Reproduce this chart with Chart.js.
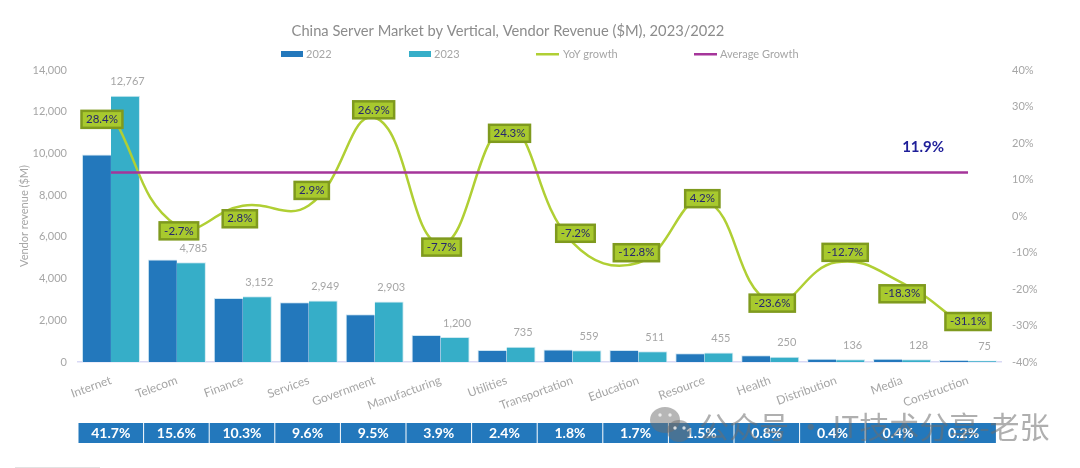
<!DOCTYPE html>
<html>
<head>
<meta charset="utf-8">
<title>China Server Market by Vertical</title>
<script src="https://cdn.jsdelivr.net/npm/chart.js@4"></script>
<style>
  html, body { margin: 0; padding: 0; background: #fff; }
  canvas { display: block; }
</style>
</head>
<body>
<canvas id="serverChart" width="1080" height="468"></canvas>
<script>
const categories = ["Internet", "Telecom", "Finance", "Services", "Government", "Manufacturing", "Utilities",
    "Transportation", "Education", "Resource", "Health", "Distribution", "Media", "Construction"];
const revenue2022 = [9943, 4918, 3066, 2866, 2288, 1300, 570, 602, 570, 420, 320, 150, 150, 100];
const revenue2023 = [12767, 4785, 3152, 2949, 2903, 1200, 735, 559, 511, 455, 250, 136, 128, 75];
const yoyGrowth = [28.4, -2.7, 2.8, 2.9, 26.9, -7.7, 24.3, -7.2, -12.8, 4.2, -23.6, -12.7, -18.3, -31.1];
const averageGrowth = [11.9, 11.9, 11.9, 11.9, 11.9, 11.9, 11.9, 11.9, 11.9, 11.9, 11.9, 11.9, 11.9, 11.9];
const marketShare = ["41.7%", "15.6%", "10.3%", "9.6%", "9.5%", "3.9%", "2.4%", "1.8%", "1.7%", "1.5%", "0.8%", "0.4%", "0.4%", "0.2%"];

// label boxes sit off the line a bit, same as in the original
const growthLabelDx = [-9, 2, -3, 3, -1, 1, 3, 3, -2, -2, 2, 9, 0, 0];
const growthLabelDy = [7, 5, 13, -15, -8, 3, 6, -9, -10, -2, 1, -10, 11, -8];

const FONT = "Lato, 'Open Sans', sans-serif";
const GREY = "#a6a6a6";
const BLUE = "#2378bc";
const TEAL = "#36aec8";
const LIME = "#b0cf34";
const PURPLE = "#a5359a";

function centerText(ctx, text, x, y, font, color) {
    ctx.font = font;
    ctx.fillStyle = color;
    ctx.textAlign = "center";
    ctx.textBaseline = "middle";
    ctx.fillText(text, x, y);
}

const extrasPlugin = {
    id: "extras",
    afterDatasetsDraw(chart) {
        const ctx = chart.ctx;
        ctx.save();

        // values above the 2023 bars
        const barMeta = chart.getDatasetMeta(1);
        revenue2023.forEach((v, i) => {
            const bar = barMeta.data[i];
            centerText(ctx, v.toLocaleString("en-US"), bar.x + 2, bar.y - 14, "11px " + FONT, GREY);
        });

        // growth labels
        const lineMeta = chart.getDatasetMeta(2);
        yoyGrowth.forEach((v, i) => {
            const pt = lineMeta.data[i];
            const text = v.toFixed(1) + "%";
            const cx = pt.x + growthLabelDx[i];
            const cy = pt.y + growthLabelDy[i];
            ctx.font = "11.5px " + FONT;
            const w = ctx.measureText(text).width + 9;
            ctx.fillStyle = "#a8c92e";
            ctx.strokeStyle = "#7f9a1e";
            ctx.lineWidth = 2.5;
            ctx.fillRect(cx - w / 2, cy - 8.5, w, 17);
            ctx.strokeRect(cx - w / 2, cy - 8.5, w, 17);
            centerText(ctx, text, cx, cy, "11.5px " + FONT, "#26266e");
        });

        // average callout
        const avgPt = chart.getDatasetMeta(3).data[12];
        centerText(ctx, "11.9%", avgPt.x + 21, avgPt.y - 25, "bold 15px " + FONT, "#1f1f99");
        ctx.restore();
    },
    afterDraw(chart) {
        const ctx = chart.ctx;
        ctx.save();

        centerText(ctx, "China Server Market by Vertical, Vendor Revenue ($M), 2023/2022", 508, 31, "14.7px " + FONT, "#8c8c8c");

        // legend, spaced wide like the original
        const legendX = [281, 409, 536, 694];
        chart.data.datasets.forEach((ds, i) => {
            const x = legendX[i];
            ctx.fillStyle = i < 2 ? ds.backgroundColor : ds.borderColor;
            if (i < 2) ctx.fillRect(x, 51, 22, 6);
            else ctx.fillRect(x, 53, 23, 2.5);
            ctx.font = "11px " + FONT;
            ctx.fillStyle = GREY;
            ctx.textAlign = "left";
            ctx.textBaseline = "middle";
            ctx.fillText(ds.label, x + (i < 2 ? 25 : i === 2 ? 27 : 26), 54);
        });

        // market share strip
        marketShare.forEach((s, i) => {
            const x = 78.5 + i * 65.6;
            ctx.fillStyle = BLUE;
            ctx.fillRect(x, 423, 64.6, 20);
            centerText(ctx, s, x + 32.3, 433.5, "bold 14px " + FONT, "#ffffff");
        });

        // watermark
        ctx.fillStyle = "rgba(110,110,110,0.5)";
        ctx.beginPath();
        ctx.ellipse(665, 420, 15, 13, 0, 0, Math.PI * 2);
        ctx.fill();
        ctx.beginPath();
        ctx.ellipse(679, 431, 12, 11, 0, 0, Math.PI * 2);
        ctx.fill();
        ctx.fillStyle = "rgba(255,255,255,0.75)";
        [[660, 415], [670, 415], [675, 428], [684, 428]].forEach(p => {
            ctx.beginPath();
            ctx.arc(p[0], p[1], 1.7, 0, Math.PI * 2);
            ctx.fill();
        });
        ctx.textAlign = "left";
        ctx.textBaseline = "middle";
        ctx.font = "30px 'Noto Sans CJK SC'";
        ctx.fillStyle = "rgba(110,110,110,0.55)";
        ctx.fillText("公众号 · IT技术分享-老张", 699, 427);

        ctx.fillStyle = "#e2e2e2";
        ctx.fillRect(15, 467, 85, 1);
        ctx.restore();
    }
};

new Chart(document.getElementById("serverChart"), {
    data: {
        labels: categories,
        datasets: [
            { type: "bar", label: "2022", data: revenue2022, backgroundColor: BLUE, borderColor: "#cfe6f2", borderWidth: { top: 1, right: 0, left: 1, bottom: 0 }, yAxisID: "y", order: 3, categoryPercentage: 0.88, barPercentage: 1 },
            { type: "bar", label: "2023", data: revenue2023, backgroundColor: TEAL, borderColor: "#cfe9f1", borderWidth: { top: 1, right: 1, left: 0, bottom: 0 }, yAxisID: "y", order: 3, categoryPercentage: 0.88, barPercentage: 1 },
            { type: "line", label: "YoY growth", data: yoyGrowth, borderColor: LIME, borderWidth: 2.5, tension: 0.45, pointRadius: 0, yAxisID: "y1", order: 2 },
            { type: "line", label: "Average Growth", data: averageGrowth, borderColor: PURPLE, borderWidth: 2.5, pointRadius: 0, yAxisID: "y1", order: 1 }
        ]
    },
    options: {
        responsive: false,
        animation: false,
        layout: { padding: { top: 70 } },
        plugins: {
            legend: { display: false },
            title: { display: false },
            tooltip: { enabled: false }
        },
        scales: {
            x: {
                grid: { display: false, drawTicks: false },
                border: { color: "#d9d9f5", width: 1.5 },
                ticks: { color: GREY, font: { family: FONT, size: 12 }, minRotation: 20, maxRotation: 20, autoSkip: false, padding: 11 },
                afterFit(scale) { scale.height = 106; }
            },
            y: {
                position: "left",
                min: 0, max: 14000,
                grid: { display: false, drawTicks: false },
                border: { display: false },
                ticks: { stepSize: 2000, color: GREY, font: { family: FONT, size: 11 }, padding: 11, callback: v => v.toLocaleString("en-US") },
                title: { display: true, text: "Vendor revenue ($M)", color: GREY, font: { family: FONT, size: 11 }, padding: { top: 18, bottom: 0 } },
                afterFit(scale) { scale.width = 78; }
            },
            y1: {
                position: "right",
                min: -40, max: 40,
                grid: { display: false, drawTicks: false },
                border: { display: false },
                ticks: { stepSize: 10, color: GREY, font: { family: FONT, size: 11 }, padding: 11, callback: v => v + "%" },
                afterFit(scale) { scale.width = 79; }
            }
        }
    },
    plugins: [extrasPlugin]
});
</script>
</body>
</html>
